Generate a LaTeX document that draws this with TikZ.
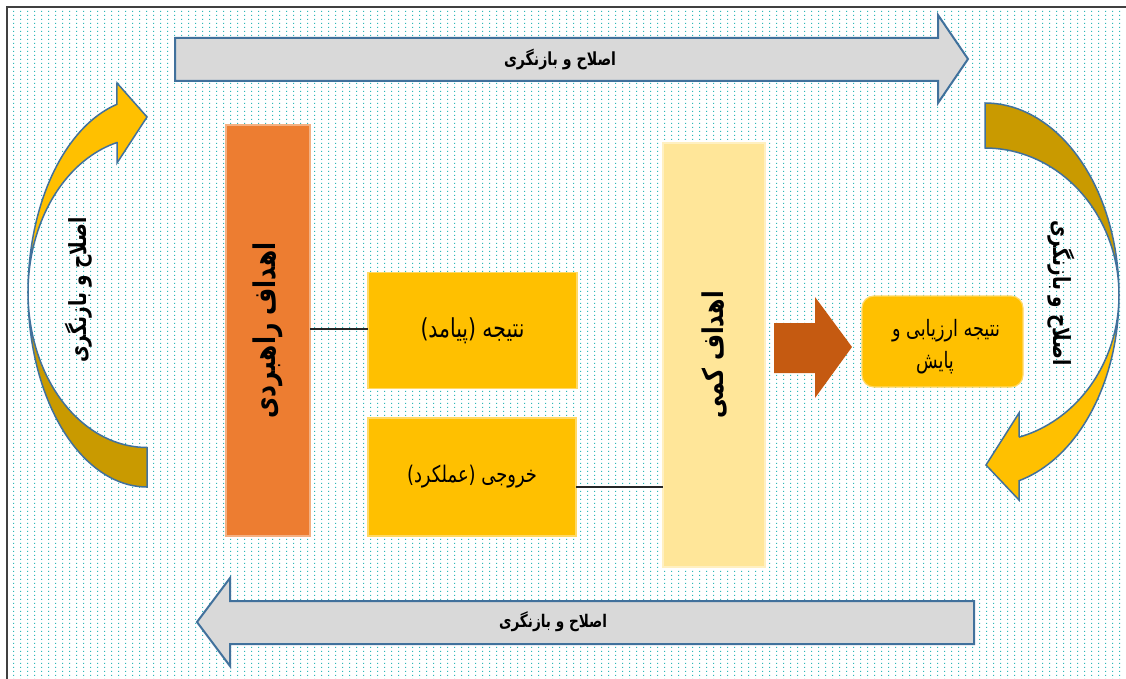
\documentclass[tikz,border=0pt]{standalone}
\usepackage{fontspec}
\usepackage{graphicx}
\usetikzlibrary{patterns.meta,calc}
\TeXXeTstate=1
\newfontfamily\arabicfont[Script=Arabic]{DejaVu Sans}
\newdimen\pxu \pxu=0.56906pt
% #1 = width in px, #2 = text (already wrapped in \beginR ... \endR)
\newcommand{\fatext}[2]{\scalebox{1}[1.28]{\resizebox{#1\pxu}{!}{\arabicfont #2}}}
\newcommand{\fabold}[2]{\scalebox{1}[1.28]{\resizebox{#1\pxu}{!}{\arabicfont\bfseries #2}}}
\definecolor{orangec}{HTML}{ED7D31}
\definecolor{yellowc}{HTML}{FFC000}
\definecolor{palec}{HTML}{FFE699}
\definecolor{brownc}{HTML}{C55A11}
\definecolor{goldc}{HTML}{C99A00}
\definecolor{grayc}{HTML}{D9D9D9}
\definecolor{bluec}{HTML}{41719C}
\definecolor{dotc}{HTML}{2EB8B8}
\definecolor{framec}{HTML}{404040}
\tikzdeclarepattern{
  name=bgdots,
  type=uncolored,
  bounding box={(0pt,0pt) and (3.7pt,2.5pt)},
  tile size={(3.7pt,2.5pt)},
  code={\pgfpathrectangle{\pgfpointorigin}{\pgfpoint{0.75pt}{0.75pt}}\pgfusepath{fill}}
}
\def\u{0.02cm}
\tikzset{
  box/.style={inner sep=0pt, outer sep=0pt, draw=#1!60!white, line width=1.2*\u},
  bigarrow/.style={fill=grayc, draw=bluec, line width=2*\u, line join=miter},
  curvy/.style={draw=bluec, line width=1.5*\u, line join=miter},
  link/.style={draw=black!85, line width=1.8*\u},
  lbl/.style={inner sep=0pt, text=black}
}
\begin{document}
\begin{tikzpicture}[x=0.02cm, y=-0.02cm]
\useasboundingbox (0,0) rectangle (1126,679);
\fill[white] (0,0) rectangle (1126,679);
\fill[pattern=bgdots, pattern color=dotc] (8,8) rectangle (1126,679);
\draw[framec, line width=2.2*\u] (7,679) -- (7,7) -- (1126,7);

% top and bottom arrows
\filldraw[bigarrow] (175,38) -- (938,38) -- (938,15) -- (968,59) -- (938,103) -- (938,81) -- (175,81) -- cycle;
\node[lbl] (toptext) at (560,59) {\fabold{112}{\beginR اصلاح و بازنگری\endR}};
\filldraw[bigarrow] (974,601) -- (230,601) -- (230,578) -- (197,622) -- (230,666) -- (230,644) -- (974,644) -- cycle;
\node[lbl] (bottext) at (553,622) {\fabold{108}{\beginR اصلاح و بازنگری\endR}};

% left curved arrow
\filldraw[curvy, fill=goldc] plot[domain=90:180, samples=40] ({147+119*cos(\x)},{292.5+194.5*sin(\x)})
  -- plot[domain=180:90, samples=40] ({147+119*cos(\x)},{292.5+155*sin(\x)}) -- cycle;
\filldraw[curvy, fill=yellowc] plot[domain=180:255.3, samples=40] ({147+119*cos(\x)},{292.5+194.5*sin(\x)})
  -- (117,83) -- (147,117) -- (117,163) -- (117,142.6)
  -- plot[domain=255.3:180, samples=40] ({147+119*cos(\x)},{292.5+155*sin(\x)}) -- cycle;
\node[lbl, rotate=90] (lefttext) at (79,290) {\fabold{146}{\beginR اصلاح و بازنگری\endR}};

% right curved arrow
\filldraw[curvy, fill=goldc] plot[domain=270:360, samples=40] ({985+134*cos(\x)},{295+192*sin(\x)})
  -- plot[domain=360:270, samples=40] ({985+134*cos(\x)},{295+147*sin(\x)}) -- cycle;
\filldraw[curvy, fill=yellowc] plot[domain=0:75.3, samples=40] ({985+134*cos(\x)},{295+192*sin(\x)})
  -- (1019,500) -- (986,465) -- (1019,413) -- (1019,437.2)
  -- plot[domain=75.3:0, samples=40] ({985+134*cos(\x)},{295+147*sin(\x)}) -- cycle;
\node[lbl, rotate=-90] (righttext) at (1061,293) {\fabold{146}{\beginR اصلاح و بازنگری\endR}};

% boxes
\node[box=orangec, fill=orangec, minimum width=84*\u, minimum height=411*\u] (strat) at (268,330.5) {};
\node[lbl, rotate=90] (strattext) at (strat.center) {\fabold{176}{\beginR اهداف راهبردی\endR}};
\node[box=yellowc, fill=yellowc, minimum width=209*\u, minimum height=116*\u] (natije) at (472.5,330.5) {\fatext{104}{\beginR نتیجه (پیامد)\endR}};
\node[box=yellowc, fill=yellowc, minimum width=208*\u, minimum height=118*\u] (khoruji) at (472,477) {\fatext{130}{\beginR خروجی (عملکرد)\endR}};
\node[box=palec, fill=palec, minimum width=102*\u, minimum height=424*\u] (kammi) at (714,355) {};
\node[lbl, rotate=90] (kammitext) at (kammi.center) {\fabold{128}{\beginR اهداف کمی\endR}};
\node[box=yellowc, fill=yellowc, rounded corners=12*\u, minimum width=161*\u, minimum height=91*\u] (result) at (942.5,341.5) {};
\node[lbl] (resulttext) at (946,347) {\fatext{108}{\begin{tabular}{@{}c@{}}\beginR نتیجه ارزیابی و\endR\\[2.2pt]\beginR پایش\endR\hspace*{12.5pt}\end{tabular}}};

% connectors
\draw[link] (natije.west |- 0,329) -- (strat.east |- 0,329);
\draw[link] (khoruji.east |- 0,487) -- (kammi.west |- 0,487);

% brown block arrow
\fill[brownc] (774,323) -- (815,323) -- (815,297) -- (852,347) -- (815,398) -- (815,373) -- (774,373) -- cycle;
\end{tikzpicture}
\end{document}
